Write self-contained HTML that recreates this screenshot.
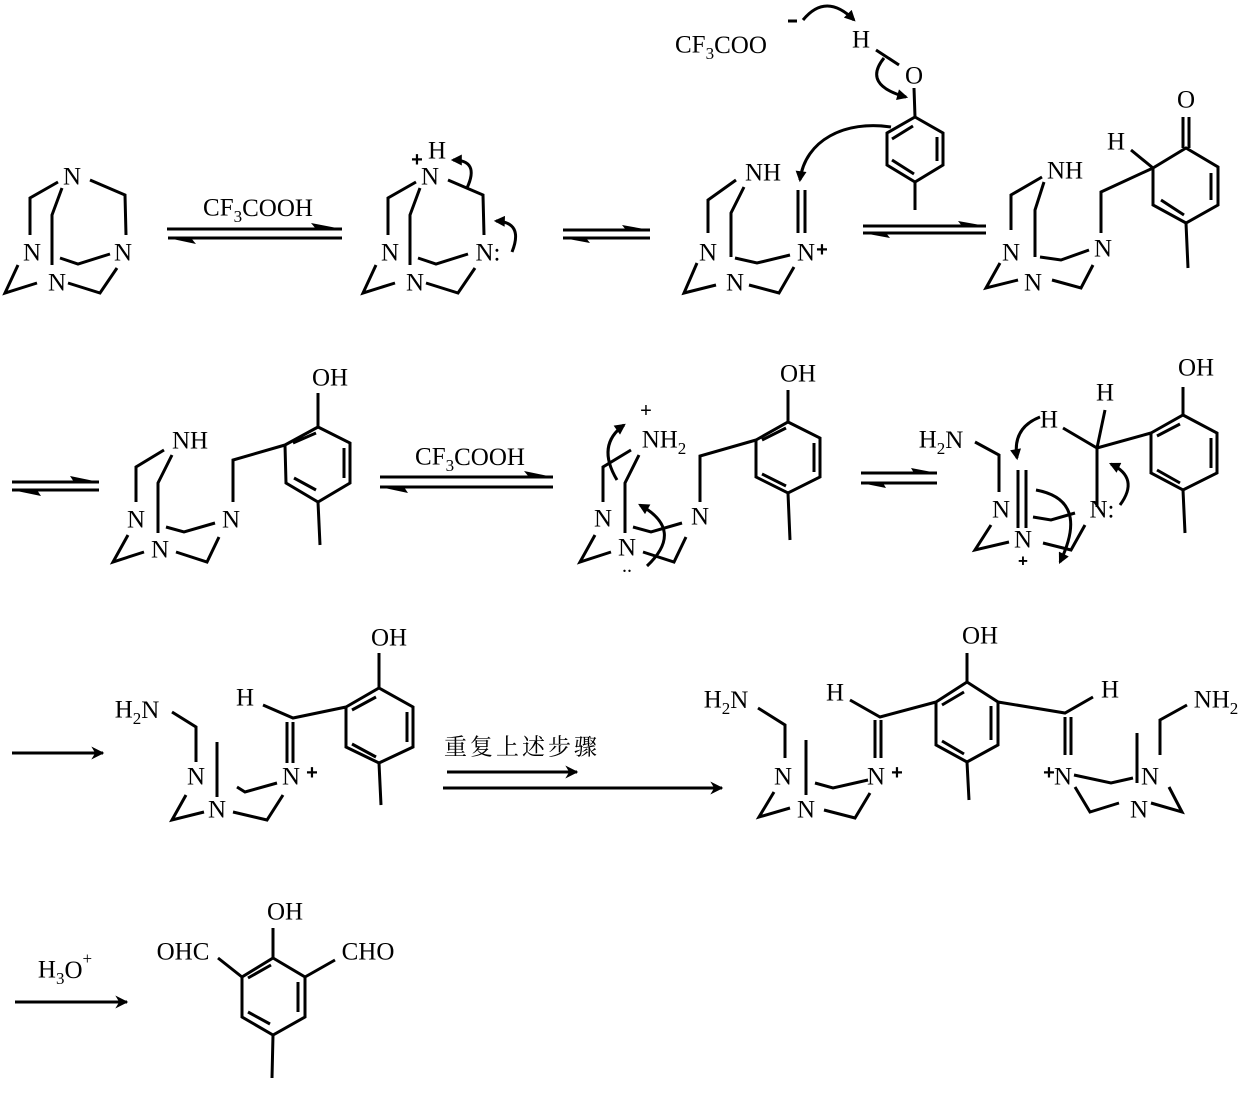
<!DOCTYPE html>
<html><head><meta charset="utf-8"><style>
html,body{margin:0;padding:0;background:#fff;}
svg{display:block;}
.b{fill:none;stroke:#000;stroke-width:3;stroke-linejoin:miter;}
.c{fill:none;stroke:#000;stroke-width:3;}
text{font-family:"Liberation Serif",serif;font-size:25px;fill:#000;text-anchor:middle;dominant-baseline:central;}
.s{font-size:17px;}
.cn{font-family:"Liberation Serif","Noto Serif CJK SC",serif;font-size:23px;text-anchor:start;}
.p{font-family:"Liberation Sans",sans-serif;font-weight:bold;font-size:20px;}
</style></head><body>
<svg width="1246" height="1118" viewBox="0 0 1246 1118" xmlns="http://www.w3.org/2000/svg">
<defs>
<marker id="a" viewBox="0 0 10 10" refX="8" refY="5" markerWidth="13" markerHeight="11" markerUnits="userSpaceOnUse" orient="auto"><path d="M0,0 L10,5 L0,10 z"/></marker>
<marker id="h" viewBox="0 0 10 10" refX="9" refY="5" markerWidth="26" markerHeight="13" markerUnits="userSpaceOnUse" orient="auto"><path d="M0,0 L10,5 L0,10 L3,5 z"/></marker>
<g id="cage">
<path class="b" d="M58,182 L30,198 L30,235 M90,180 L125,195 L126,235 M62,188 L52,215 L52,265 M60,258 L78,264 L110,254 M18,265 L5,293 L37,283 M68,283 L100,293 L117,268"/>
</g>
</defs>

<!-- ROW 1 -->
<use href="#cage"/>
<text x="72" y="177">N</text><text x="32" y="253">N</text><text x="123" y="253">N</text><text x="57" y="283">N</text>

<path class="b" d="M167,229 H342 M168,238 H342"/>
<path d="M342,229 L311,223 L316,229 z M168,238 L196,244 L191,238 z"/>
<text x="258" y="208">CF<tspan class="s" dy="8">3</tspan><tspan dy="-8">COOH</tspan></text>

<use href="#cage" transform="translate(358,0)"/>
<text x="430" y="177">N</text><text x="437" y="151">H</text><text x="417" y="160" class="p">+</text>
<text x="390" y="253">N</text><text x="415" y="283">N</text><text x="488" y="253">N:</text>
<path class="c" marker-end="url(#a)" d="M467,188 Q480,160 453,160"/>
<path class="c" marker-end="url(#a)" d="M512,252 Q524,222 496,221"/>

<path class="b" d="M563,230 H650 M563,238 H650"/>
<path d="M650,230 L622,225 L626,230 z M563,238 L590,243 L586,238 z"/>

<path class="b" d="M736,180 L708,200 L708,233 M744,187 L731,213 L731,257 M798,190 V233 M805,190 V233 M735,258 L757,263 L790,255 M697,263 L684,293 L716,285 M749,285 L779,293 L794,267"/>
<text x="763" y="173">NH</text><text x="708" y="253">N</text><text x="735" y="283">N</text><text x="806" y="253">N</text><text x="822" y="250" class="p">+</text>
<path class="c" marker-end="url(#a)" d="M891,127 C845,120 805,140 800,180"/>
<text x="675" y="45" style="text-anchor:start">CF<tspan class="s" dy="8">3</tspan><tspan dy="-8">COO</tspan></text>
<path class="b" d="M788,21 H797"/>
<path class="c" marker-end="url(#a)" d="M803,20 Q826,-8 854,20"/>
<text x="861" y="40">H</text><text x="914" y="76">O</text>
<path class="b" d="M876,50 L899,65 M914,88 L915,117 M915,117 L943,133 L943,165 L915,182 L887,165 L887,133 Z M915,182 V210 M892,139 L913,126 M937,137 V161 M892,160 L914,174"/>
<path class="c" marker-end="url(#a)" d="M884,58 Q862,85 906,97"/>

<path class="b" d="M863,226 H986 M863,233 H986"/>
<path d="M986,226 L958,221 L962,226 z M863,233 L890,238 L886,233 z"/>

<path class="b" d="M1042,177 L1011,195 L1011,230 M1044,182 L1035,210 L1035,257 M1040,257 L1061,260 L1089,250 M1000,263 L986,288 L1018,280 M1052,280 L1081,288 L1093,265"/>
<text x="1065" y="171">NH</text><text x="1011" y="253">N</text><text x="1033" y="283">N</text><text x="1103" y="249">N</text>
<path class="b" d="M1101,233 V192 L1153,168 M1153,168 L1186,148 L1218,167 L1218,205 L1186,223 L1153,205 Z M1131,150 L1153,168 M1183,148 V117 M1189,148 V117 M1211,173 V200 M1161,200 L1184,215 M1186,223 L1188,268"/>
<text x="1116" y="142">H</text><text x="1186" y="100">O</text>

<!-- ROW 2 -->
<path class="b" d="M12,482 H99 M12,490 H99"/>
<path d="M99,482 L70,476 L74,482 z M12,490 L41,496 L37,490 z"/>
<path class="b" d="M164,450 L136,467 L136,502 M172,455 L158,483 L158,533 M166,527 L184,532 L215,523 M128,535 L113,562 L144,552 M176,552 L207,562 L219,537 M233,502 V460 L285,445 M285,445 L318,427 L350,443 L350,483 L318,502 L286,483 Z M318,427 V393 M318,502 L320,545 M293,443 L316,433 M344,448 V478 M294,478 L316,490"/>
<text x="190" y="441">NH</text><text x="136" y="520">N</text><text x="160" y="550">N</text><text x="231" y="520">N</text><text x="330" y="378">OH</text>

<path class="b" d="M380,477 H553 M380,487 H553"/>
<path d="M553,477 L524,471 L529,477 z M380,487 L408,493 L404,487 z"/>
<text x="470" y="457">CF<tspan class="s" dy="8">3</tspan><tspan dy="-8">COOH</tspan></text>

<path class="b" d="M631,450 L603,467 L603,502 M639,455 L625,483 L625,533 M633,527 L651,532 L682,523 M595,535 L580,562 L611,552 M643,552 L674,562 L686,537 M700,502 V456 L756,440 M756,440 L788,422 L820,438 L820,477 L788,493 L756,477 Z M788,422 V390 M788,493 L790,540 M762,440 L786,428 M814,443 V472 M762,474 L786,486"/>
<text x="664" y="440">NH<tspan class="s" dy="8">2</tspan></text><text x="646" y="411" class="p" style="font-weight:normal">+</text>
<text x="603" y="519">N</text><text x="627" y="548">N</text><text x="627" y="566" style="font-size:20px">..</text><text x="700" y="517">N</text>
<text x="798" y="374">OH</text>
<path class="c" marker-end="url(#a)" d="M617,480 Q596,445 624,425"/>
<path class="c" marker-end="url(#a)" d="M647,566 Q685,530 640,505"/>

<path class="b" d="M861,473 H937 M861,483 H937"/>
<path d="M937,473 L911,468 L914,473 z M861,483 L886,488 L883,483 z"/>

<text x="941" y="440">H<tspan class="s" dy="8">2</tspan><tspan dy="-8">N</tspan></text>
<path class="b" d="M975,442 L999,455 L999,492 M1018,470 V528 M1026,470 V528 M1033,517 L1051,520 L1075,513 M991,525 L975,550 L1009,542 M1043,543 L1071,550 L1085,525 M1097,507 V448 L1105,410 M1063,428 L1097,448 L1151,433 M1151,433 L1183,415 L1217,433 L1217,473 L1183,490 L1151,473 Z M1183,415 V387 M1183,490 L1185,533 M1157,436 L1180,424 M1211,438 V468 M1157,470 L1180,483"/>
<text x="1001" y="510">N</text><text x="1023" y="540">N</text><text x="1023" y="561" class="p" style="font-size:17px">+</text><text x="1102" y="510">N:</text>
<text x="1049" y="420">H</text><text x="1105" y="393">H</text><text x="1196" y="368">OH</text>
<path class="c" marker-end="url(#a)" d="M1040,417 Q1012,428 1017,458"/>
<path class="c" marker-end="url(#a)" d="M1120,505 Q1140,478 1111,464"/>
<path class="c" marker-end="url(#a)" d="M1036,490 Q1090,500 1060,562"/>

<!-- ROW 3 -->
<path class="b" marker-end="url(#h)" d="M12,753 H103"/>
<text x="137" y="710">H<tspan class="s" dy="8">2</tspan><tspan dy="-8">N</tspan></text>
<path class="b" d="M172,712 L196,727 L196,762 M217,742 V797 M237,787 L245,792 L277,783 M186,795 L172,820 L204,812 M233,812 L267,820 L283,795 M287,722 V763 M293,722 V763 M263,705 L293,718 L346,707 M346,707 L379,688 L413,707 L413,747 L379,763 L346,747 Z M379,688 V653 M379,763 L381,805 M352,710 L376,697 M407,712 V742 M352,744 L376,757"/>
<text x="196" y="777">N</text><text x="217" y="810">N</text><text x="291" y="777">N</text><text x="312" y="773" class="p">+</text>
<text x="245" y="698">H</text><text x="389" y="638">OH</text>

<text x="444" y="747" class="cn" style="letter-spacing:3px">重复上述步骤</text>
<path class="b" marker-end="url(#h)" d="M447,772 H577"/>
<path class="b" marker-end="url(#h)" d="M443,788 H722"/>

<text x="726" y="700">H<tspan class="s" dy="8">2</tspan><tspan dy="-8">N</tspan></text>
<path class="b" d="M758,708 L785,725 L785,758 M806,740 V795 M815,783 L833,788 L868,780 M774,792 L759,817 L790,808 M824,810 L855,818 L870,793 M875,720 V758 M881,720 V758 M850,700 L880,717 L936,702 M936,702 L967,682 L998,702 L998,745 L967,762 L936,745 Z M967,682 V653 M967,762 L969,800 M942,705 L964,692 M991,706 V740 M942,741 L964,754 M998,702 L1065,713 L1093,697 M1065,717 V755 M1071,717 V755 M1137,733 V783 M1187,705 L1160,720 L1160,755 M1074,775 L1111,783 L1133,778 M1075,787 L1090,812 L1119,803 M1151,803 L1182,812 L1169,787"/>
<text x="783" y="777">N</text><text x="806" y="810">N</text><text x="876" y="777">N</text><text x="897" y="773" class="p">+</text>
<text x="835" y="693">H</text><text x="980" y="636">OH</text><text x="1110" y="690">H</text>
<text x="1063" y="777">N</text><text x="1049" y="773" class="p">+</text><text x="1150" y="777">N</text><text x="1139" y="810">N</text>
<text x="1216" y="700">NH<tspan class="s" dy="8">2</tspan></text>

<!-- ROW 4 -->
<text x="65" y="970">H<tspan class="s" dy="8">3</tspan><tspan dy="-8">O</tspan><tspan class="s" dy="-12">+</tspan></text>
<path class="b" marker-end="url(#h)" d="M15,1002 H127"/>
<path class="b" d="M273,928 V958 M273,958 L305,977 L305,1017 L273,1035 L242,1017 L242,977 Z M218,958 L242,977 M335,960 L305,977 M273,1035 L272,1078 M248,978 L271,965 M298,982 V1012 M248,1012 L270,1024"/>
<text x="285" y="912">OH</text><text x="183" y="952">OHC</text><text x="368" y="952">CHO</text>
</svg>
</body></html>
